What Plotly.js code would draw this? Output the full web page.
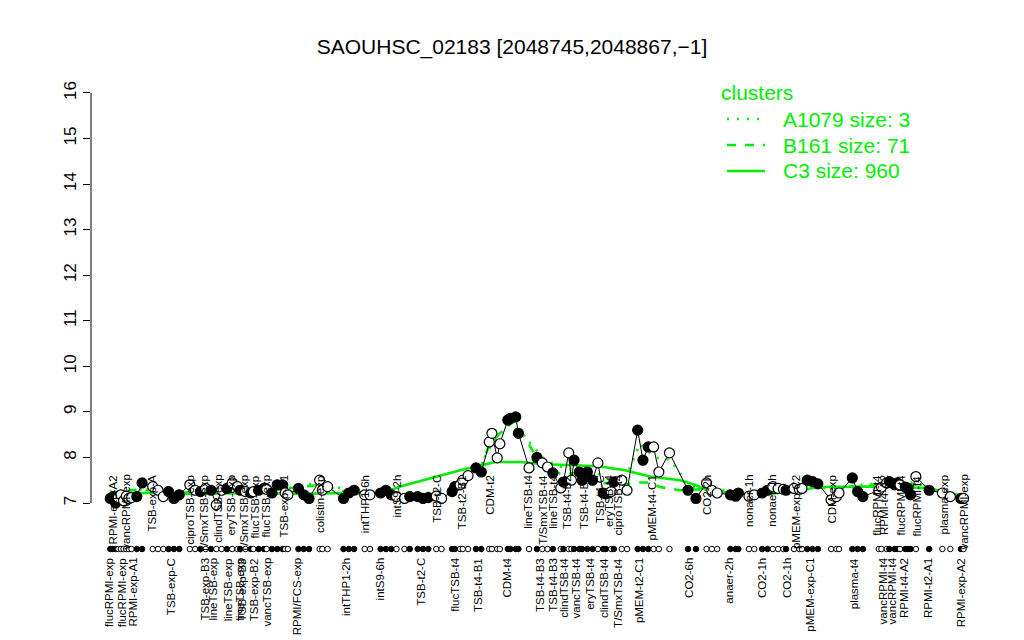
<!DOCTYPE html>
<html><head><meta charset="utf-8">
<script src="https://cdn.plot.ly/plotly-3.0.1.min.js"></script>
<style>html,body{margin:0;padding:0;background:#fff}#chart{width:1024px;height:640px}</style>
</head><body><div id="chart"></div>
<script>
// ---- data ----
const samplePos = [1,1.5,2,2.5,3,3.5,4,4.5,5,6,7,9,10,11,12,13,14,16,17,18,19,20,21,22,23,24,25,25.5,26.5,27.5,28,29,30,30.5,31.5,32.5,33.5,34,34.5,36.5,37.5,38.5,40.5,41,42,45,46,47,49,50,52,53,54,55,56.5,57.5,59,60,61,62.5,63.5,65.5,66,67,67.5,68.5,70,71,72.5,73,74,74.5,76,76.5,77.5,78,80,81.5,82.5,83.5,84.5,86,86.5,87.5,88,88.5,89.5,90,91,92,93,94,94.5,95.5,96,97.5,98.5,100.5,101.5,102.5,103.5,104.5,106.5,110,111.5,113.5,114.5,115.5,118,119,119.5,121.5,122.5,124,125,126,127,128,128.5,130,131,131.5,132.5,133.5,134.5,137,138,138.5,141,142,143,146,146.5,147.5,148,149,149.5,150,151,151.5,152,153,155.5,158,159.5,161.5,162];
const sampleVal = [7.10,7.14,7.00,7.12,7.18,7.05,7.15,7.10,7.12,7.14,7.44,7.36,7.28,7.14,7.25,7.10,7.18,7.40,7.28,7.25,7.32,7.28,6.96,7.28,7.32,7.44,7.36,7.28,7.25,7.22,7.25,7.28,7.32,7.30,7.22,7.40,7.40,7.22,7.18,7.32,7.18,7.10,7.50,7.28,7.36,7.10,7.22,7.28,7.18,7.18,7.22,7.28,7.18,7.14,7.10,7.14,7.14,7.10,7.12,7.15,7.10,7.25,7.36,7.40,7.50,7.60,7.77,7.68,8.34,8.53,7.99,8.30,8.82,8.86,8.89,8.53,7.77,8.00,7.88,7.79,7.66,7.33,7.46,8.10,7.50,7.94,7.68,7.50,7.68,7.50,7.88,7.22,7.20,7.25,7.46,7.50,7.28,8.60,7.94,8.23,8.23,7.68,8.10,7.28,7.10,7.44,7.28,7.22,7.18,7.15,7.22,7.15,7.18,7.22,7.28,7.36,7.32,7.30,7.28,7.32,7.30,7.32,7.50,7.47,7.42,7.07,7.14,7.22,7.55,7.25,7.14,7.28,7.35,7.44,7.47,7.40,7.44,7.40,7.35,7.32,7.18,7.58,7.28,7.22,7.14,7.10,7.10];
const sampleFilled = [1,1,1,0,0,0,0,0,0,1,1,0,0,0,1,1,1,0,0,1,0,1,0,0,1,0,0,1,0,1,0,1,1,0,1,1,1,0,0,1,1,1,0,0,0,1,1,1,0,0,1,1,1,0,0,1,1,1,1,0,0,1,1,0,0,0,1,1,0,0,0,0,1,1,1,1,0,1,0,0,1,0,1,0,0,1,1,1,1,1,0,1,1,0,1,0,0,1,1,1,0,0,0,1,1,0,0,0,1,1,1,0,0,1,1,0,0,0,1,0,0,0,1,1,1,0,0,0,1,1,1,0,0,0,1,1,1,0,1,1,1,0,1,0,0,1,0];

const bottomLabels = ["flucRPMI-exp","flucRPMI-exp","RPMI-exp-A1","TSB-exp-C","TSB-exp-B3","lineTSB-exp","lineTSB-exp","lineTSB-exp","TSB-exp-B3","TSB-exp-B2","vancTSB-exp","RPMI/FCS-exp","intTHP1-2h","intS9-6h","TSB-t2-C","flucTSB-t4","TSB-t4-B1","CDM-t4","TSB-t4-B3","TSB-t4-B3","clindTSB-t4","vancTSB-t4","eryTSB-t4","clindTSB-t4","T/SmxTSB-t4","pMEM-t2-C1","CO2-6h","anaer-2h","CO2-1h","CO2-1h","pMEM-exp-C1","plasma-t4","vancRPMI-t4","vancRPMI-t4","RPMI-t4-A2","RPMI-t2-A1","RPMI-exp-A2"];
const bottomLabelPos = [0.9,3.2,5.3,12.6,18.9,20.4,23.2,25.5,26.0,28.1,30.6,36.2,45.5,51.9,59.6,66.0,70.4,75.8,82.1,84.5,86.6,88.9,91.5,94.2,96.8,100.9,110.2,117.7,124.0,128.7,133.0,141.3,146.8,148.5,150.8,155.3,161.5];

const topLabels = ["RPMI-exp-A2","vancRPMI-exp","TSB-exp-A","ciproTSB-exp","T/SmxTSB-exp","clindTSB-exp","eryTSB-exp","T/SmxTSB-exp","flucTSB-exp","flucTSB-exp","TSB-exp-B1","colistin-exp","intTHP1-6h","intS9-2h","TSB-t2-C","TSB-t2-B1","CDM-t2","lineTSB-t4","T/SmxTSB-t4","lineTSB-t4","TSB-t4-B2","TSB-t4-B1","TSB-t4-C","eryTSB-t4","ciproTSB-t4","pMEM-t4-C1","CO2-2h","nonaer-1h","nonaer-1h","pMEM-exp-C2","CDM-exp","flucRPMI-t4","RPMI-t4-A2","flucRPMI-t4","flucRPMI-t4","plasma-exp","vancRPMI-exp"];
const topLabelPos = [1.5,4.0,8.9,16.0,18.7,21.3,23.8,26.2,28.3,30.4,33.8,40.6,49.1,55.1,62.6,67.4,72.6,79.8,82.6,84.5,87.2,90.4,93.4,95.1,96.8,103.2,113.6,121.5,125.8,130.4,137.2,145.7,147.0,150.2,153.2,158.3,162.1];

const c3Pos = [1,8.5,17.9,27.4,36.8,44.3,50,52.8,55.7,59.4,63.2,67,70.8,73.6,78.3,83,88.7,93.4,98.1,102.8,108.5,111.3,114.2,119.8,123.6,129.2,134.9,142.5,150,155.7,162.3];
const c3Val = [7.22,7.22,7.20,7.22,7.20,7.22,7.20,7.24,7.36,7.48,7.60,7.72,7.82,7.90,7.90,7.85,7.83,7.80,7.72,7.58,7.50,7.40,7.25,7.20,7.18,7.25,7.35,7.36,7.36,7.32,7.14];
const b161Pos = [0.9,6.6,14.2,23.6,33,40.6,45.3,53.8,59.4,63.2,67,70.8,72.6,75.5,77.4,79.2,82.1,85.8,89.6,93.4,97.2,100.9,102.8,104.7,108.5,112.3,117.9,123.6,129.2,133,137.7,141.5,146.2,150,153.8,157.5,162.3];
const b161Val = [7.22,7.30,7.22,7.30,7.30,7.40,7.25,7.20,7.15,7.20,7.45,7.75,8.30,8.65,8.80,8.45,7.85,7.65,7.65,7.45,7.40,7.45,7.45,7.35,7.28,7.30,7.20,7.22,7.30,7.40,7.28,7.35,7.42,7.42,7.40,7.25,7.15];
const a1079Pos = [0.9,6.6,14.2,23.6,33,40.6,45.3,53.8,59.4,65.1,70.8,73.6,76.4,79.2,83,86.8,91.5,95.3,98.1,100.9,103.8,106.6,110.4,114.2,119.8,125.5,131.1,136.8,142.5,148.1,152.8,157.5,162.3];
const a1079Val = [7.25,7.30,7.25,7.35,7.30,7.45,7.30,7.25,7.20,7.30,7.85,8.40,8.75,8.45,7.95,7.75,7.75,7.50,7.50,8.30,8.00,7.95,7.35,7.35,7.20,7.25,7.40,7.30,7.40,7.45,7.45,7.25,7.15];

const yTicks = [7,8,9,10,11,12,13,14,15,16];
const titleText = "SAOUHSC_02183 [2048745,2048867,\u22121]";
const legendTitle = "clusters";
const legendNames = ["A1079 size: 3","B161 size: 71","C3 size: 960"];

// ---- layout helpers ----
const W = 1024, H = 640, L = 91, R = 34, T = 80, B = 10;
const px2x = p => (p - L) / (W - L - R);
const py2y = p => (H - B - p) / (H - T - B);
const FONT = "Liberation Sans, Arial, Helvetica, sans-serif";
const GREEN = "#00ee00";

const ptColors = sampleFilled.map(f => f ? "#000000" : "#ffffff");
const traces = [
  {x:c3Pos, y:c3Val, mode:"lines", line:{color:GREEN, width:2.6}, hoverinfo:"skip"},
  {x:b161Pos, y:b161Val, mode:"lines", line:{color:GREEN, width:2.6, dash:"9px,9px"}, hoverinfo:"skip"},
  {x:a1079Pos, y:a1079Val, mode:"lines", line:{color:GREEN, width:2.6, dash:"2px,8px"}, hoverinfo:"skip"},
  {x:samplePos, y:sampleVal, mode:"lines", line:{color:"#000", width:1}, hoverinfo:"skip"},
  {x:samplePos, y:sampleVal, mode:"markers", marker:{size:10, color:ptColors, line:{color:"#000", width:1.2}}},
  {x:samplePos, y:samplePos.map(() => 5.99), mode:"markers", marker:{size:5.5, color:ptColors, line:{color:"#000", width:1}}, cliponaxis:false}
];

const annotations = [];
bottomLabels.forEach((t,i) => annotations.push({x:bottomLabelPos[i], y:5.84, xref:"x", yref:"y", text:t, showarrow:false, textangle:-90, xanchor:"center", yanchor:"top", font:{family:FONT, size:11.5, color:"#000"}}));
topLabels.forEach((t,i) => annotations.push({x:topLabelPos[i], y:7.66, xref:"x", yref:"y", text:t, showarrow:false, textangle:-90, xanchor:"center", yanchor:"top", font:{family:FONT, size:11.5, color:"#000"}}));
annotations.push({xref:"paper", yref:"paper", x:px2x(719), y:py2y(92), text:legendTitle, showarrow:false, xanchor:"left", yanchor:"middle", font:{family:FONT, size:21, color:GREEN}});
legendNames.forEach((t,i) => annotations.push({xref:"paper", yref:"paper", x:px2x(781), y:py2y(119 + 26*i), text:t, showarrow:false, xanchor:"left", yanchor:"middle", font:{family:FONT, size:21, color:GREEN}}));

const dashes = ["2px,8px","9px,9px","solid"];
const shapes = [{type:"line", xref:"paper", yref:"y", x0:0, x1:0, y0:7, y1:16, line:{color:"#000", width:1}}];
dashes.forEach((d,i) => shapes.push({type:"line", xref:"paper", yref:"paper", x0:px2x(727), x1:px2x(765), y0:py2y(119+26*i), y1:py2y(119+26*i), line:{color:GREEN, width:2.6, dash:d}}));

const layout = {
  width:W, height:H, margin:{l:L, r:R, t:T, b:B},
  paper_bgcolor:"#fff", plot_bgcolor:"#fff", showlegend:false,
  title:{text:titleText, font:{family:FONT, size:21, color:"#000"}, xref:"container", x:0.5, xanchor:"center", yref:"container", y:1-47/640, yanchor:"middle"},
  xaxis:{range:[(L-105)/5.3, (W-R-105)/5.3], visible:false, showgrid:false, zeroline:false},
  yaxis:{range:[7-(H-B-503)/45.56, 7+(503-T)/45.56], tickvals:yTicks, ticktext:yTicks.map(String), ticks:"outside", ticklen:7, tickwidth:1, tickcolor:"#000", showgrid:false, zeroline:false, showline:false, tickangle:-90, tickfont:{family:FONT, size:17, color:"#000"}},
  annotations, shapes
};
Plotly.newPlot("chart", traces, layout, {staticPlot:true});
</script></body></html>
